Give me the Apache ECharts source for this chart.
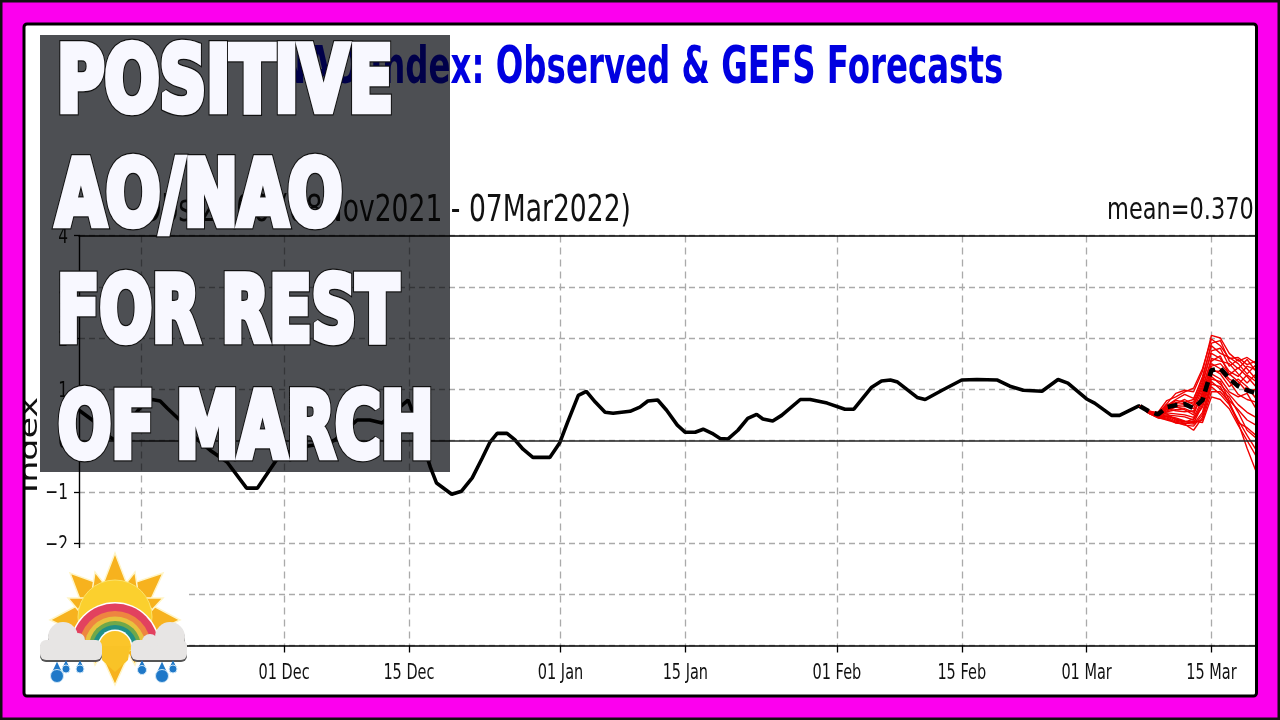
<!DOCTYPE html>
<html><head><meta charset="utf-8">
<style>html,body{margin:0;padding:0;background:#fff}#c{width:1280px;height:720px}</style>
<script src="https://cdn.jsdelivr.net/npm/echarts@6/dist/echarts.min.js"></script>
</head><body><div id="c"></div>
<script>
// Days counted from 08 Nov 2021
const tickDays = [7,23,37,54,68,85,99,113,127];
const tickLabels = ['15 Nov','01 Dec','15 Dec','01 Jan','15 Jan','01 Feb','15 Feb','01 Mar','15 Mar'];
const yTicks = [4,3,2,1,0,-1,-2,-3,-4];
const obsDays = [0,2.6,3.5,4.4,6,7.2,8.2,9.1,9.9,11.3,13,14.7,16.6,18.8,20,22.5,24.8,27.9,28.7,31.2,32.6,34,34.9,36.9,37.5,39.4,40.1,41.8,42.9,44.1,45.2,46.1,46.9,48,48.9,49.8,50.9,52.8,53.9,54.8,56,56.9,57.9,59,59.9,61.8,62.9,63.8,64.9,65.9,67.1,68,69.1,70,71,71.9,72.8,73.9,75,76,76.7,77.8,78.8,80.9,82,83.9,85.9,86.9,88.9,90,91,91.8,94,94.9,96.8,99,100.7,103,104.4,105.9,108,109.8,110.9,113,113.9,115.8,116.7,118.8,119];
const obsValues = [.59,.26,.06,-.03,.45,.71,.8,.77,.63,.4,.06,-.19,-.42,-.93,-.93,-.29,-.13,-.05,.01,.4,.4,.34,.49,.79,.53,-.52,-.83,-1.05,-.99,-.73,-.35,-.03,.14,.14,.01,-.17,-.33,-.33,-.05,.36,.88,.96,.75,.55,.53,.57,.65,.77,.79,.59,.3,.16,.16,.22,.14,.04,.03,.2,.43,.51,.42,.38,.49,.8,.8,.73,.61,.61,1.04,1.16,1.18,1.14,.84,.8,.98,1.18,1.19,1.18,1.06,.98,.96,1.19,1.12,.81,.73,.49,.49,.67,.67];
const fcstDays = [119,120,121,122,123,124,125,126,127,128,129,130,131,132];
const fcstMean = [.67,.57,.51,.65,.69,.71,.63,.79,1.37,1.41,1.21,1.06,.98,.92];
const m01 = [.67,.58,.52,.72,.92,.98,.95,1.35,2.05,2.0,1.7,1.55,1.62,1.5];
const m02 = [.67,.56,.55,.78,.85,.95,1.02,1.4,1.98,1.85,1.6,1.62,1.48,1.55];
const m03 = [.67,.55,.5,.68,.8,.9,.82,1.2,1.9,1.95,1.55,1.4,1.58,1.35];
const m04 = [.67,.57,.48,.66,.78,.75,.8,1.25,1.85,1.7,1.62,1.5,1.3,1.48];
const m05 = [.67,.54,.46,.62,.72,.8,.7,1.1,1.75,1.8,1.45,1.58,1.4,1.2];
const m06 = [.67,.56,.53,.7,.74,.72,.75,1.15,1.7,1.6,1.35,1.25,1.45,1.38];
const m07 = [.67,.55,.5,.6,.68,.7,.62,1.0,1.6,1.55,1.5,1.3,1.12,1.3];
const m08 = [.67,.53,.49,.58,.65,.66,.68,1.05,1.55,1.65,1.28,1.42,1.25,1.05];
const m09 = [.67,.55,.47,.56,.6,.62,.55,.9,1.5,1.4,1.2,1.1,1.28,1.15];
const m10 = [.67,.54,.51,.64,.66,.6,.5,.95,1.45,1.5,1.3,1.15,.95,1.0];
const m11 = [.67,.56,.52,.62,.58,.56,.58,.85,1.4,1.3,1.05,1.2,1.05,.82];
const m12 = [.67,.55,.48,.54,.52,.5,.45,.8,1.35,1.35,1.15,.9,.8,.75];
const m13 = [.67,.54,.46,.5,.48,.46,.4,.75,1.3,1.2,.95,.85,.92,.62];
const m14 = [.67,.53,.45,.48,.44,.38,.34,.7,1.25,1.1,.9,.7,.55,.45];
const m15 = [.67,.55,.5,.52,.4,.36,.42,.65,1.2,1.15,.78,.6,.4,.3];
const m16 = [.67,.54,.47,.46,.38,.34,.32,.55,1.15,1.0,.85,.55,.2,.05];
const m17 = [.67,.53,.44,.42,.36,.3,.28,.5,1.1,1.05,.72,.4,.1,-.18];
const m18 = [.67,.55,.46,.44,.34,.32,.2,.45,1.05,.9,.7,.35,.25,.1];
const m19 = [.67,.54,.49,.47,.42,.37,.35,.4,.95,.95,.75,.35,-.15,-.6];
const m20 = [.67,.53,.45,.4,.35,.33,.38,.35,.85,.8,.62,.3,.0,-.3];
const members = [m01,m02,m03,m04,m05,m06,m07,m08,m09,m10,m11,m12,m13,m14,m15,m16,m17,m18,m19,m20];
const titleText = 'NAO Index: Observed & GEFS Forecasts';
const subText = 'Obs/Z500 (08Nov2021 - 07Mar2022)';
const meanText = 'mean=0.3707';
const overlayLines = ['POSITIVE','AO/NAO','FOR REST','OF MARCH'];

const zip = (xs, ys) => xs.map((x, i) => [x, ys[i]]);
const cond = '"DejaVu Sans Condensed","DejaVu Sans",sans-serif';
const dv = '"DejaVu Sans",sans-serif';
const MAG = '#fc00ee';

const series = members.map(m => ({
  type:'line', data: zip(fcstDays, m), showSymbol:false, silent:true, z:3,
  lineStyle:{color:'#f00000', width:1.4}
}));
series.unshift({
  type:'line', data: zip(obsDays, obsValues), showSymbol:false, silent:true, z:2,
  lineStyle:{color:'#000', width:3.6},
  markLine:{silent:true, symbol:'none', animation:false, label:{show:false},
    lineStyle:{color:'#222', type:'solid', width:1.6}, data:[{yAxis:0}]}
});
series.push({
  type:'line', data: zip(fcstDays, fcstMean), showSymbol:false, silent:true, z:4,
  lineStyle:{color:'#000', width:4.6, type:[10,6]}
});

const chart = echarts.init(document.getElementById('c'), null, {renderer:'canvas', width:1280, height:720});
chart.setOption({
  animation:false,
  backgroundColor:'#fff',
  grid:{left:79, right:24, top:235.5, bottom:74.5, containLabel:false},
  xAxis:[{
    type:'value', min:0, max:132, position:'bottom',
    axisLine:{onZero:false, lineStyle:{color:'#000', width:1.6}},
    axisTick:{customValues:tickDays, length:7, lineStyle:{color:'#000', width:1.3}},
    axisLabel:{show:false, customValues:tickDays},
    splitLine:{show:true, lineStyle:{color:'#aaa', type:[7,5], width:1.3}}
  },{
    type:'value', min:0, max:132, position:'top',
    axisLine:{onZero:false, lineStyle:{color:'#000', width:1.6}},
    axisTick:{show:false}, axisLabel:{show:false}, splitLine:{show:false}
  }],
  yAxis:{
    type:'value', min:-4, max:4, interval:1,
    axisLine:{show:true, onZero:false, lineStyle:{color:'#000', width:1.4}},
    axisTick:{show:true, length:5, lineStyle:{color:'#000', width:1.3}},
    axisLabel:{show:false},
    splitLine:{show:true, lineStyle:{color:'#aaa', type:[6,4], width:1.3}}
  },
  series
});

// --- texts and decorative graphics ---
const g = [];
const Z = 100;
const txt = (text, x, y, font, fill, extra, style) => g.push(Object.assign({type:'text', z:1, x, y,
  style:Object.assign({text, font, fill, align:'left', verticalAlign:'middle'}, style||{})}, extra||{}));

txt(titleText, 279, 69, 'bold 52px '+dv, '#0000e0', {scaleX:.624});
txt(subText, 631, 211, '38px '+dv, '#111', {scaleX:.7}, {align:'right'});
txt(meanText, 1107, 211, '31px '+dv, '#111', {scaleX:.725});
txt('Index', 43, 445, '35px '+dv, '#111', {rotation:Math.PI/2, scaleY:.72}, {align:'center', verticalAlign:'bottom'});

tickDays.forEach((d,i) => {
  const px = chart.convertToPixel({xAxisIndex:0}, d);
  txt(tickLabels[i], px, 674, '21px '+dv, '#111', {scaleX:.69}, {align:'center'});
});
yTicks.forEach(v => {
  const py = chart.convertToPixel({yAxisIndex:0}, v);
  txt(String(v).replace('-', '\u2212'), 68, py+2, '22px '+dv, '#111', {scaleX:.7}, {align:'right'});
});

// translucent panel (multiply keeps chart faintly visible)
g.push({type:'rect', z:Z, shape:{x:40,y:35,width:410,height:437}, style:{fill:'#4d4f53', blend:'multiply'}});
const lineY = [87.5,202,318,434], lineX = [57,56,57,58], sx = [.80,.795,.766,.774];
overlayLines.forEach((t,i) => {
  [['#111',9],['#f8f8ff',6.5]].forEach(([s,w],k) => g.push({type:'text', z:Z+1+k, x:lineX[i], y:lineY[i], scaleX:sx[i],
    style:{text:t, fill:'#f8f8ff', stroke:s, lineWidth:w, font:'bold 90px '+cond, align:'left', verticalAlign:'middle'}}));
});

// weather icon
const IZ = Z+5;
g.push({type:'rect', z:IZ, shape:{x:40,y:548,width:147,height:148}, style:{fill:'#fff'}});
const cx = 115, cy = 617;
const rays = [[[115,553],[100,592],[130,592]],[[70,573],[84,610],[106,586]],[[163,573],[124,586],[146,610]],
  [[50,620],[84,602],[84,636]],[[180,620],[146,602],[146,636]],[[115,685],[100,652],[130,652]],
  [[95,572],[92,592],[106,586]],[[135,572],[124,586],[138,592]],[[68,598],[78,610],[86,598]],[[163,598],[144,598],[152,610]],
  [[95,665],[104,650],[90,650]],[[135,665],[126,650],[140,650]]];
rays.forEach(r => g.push({type:'polygon', z:IZ+1, shape:{points:r}, style:{fill:'#f7b21e', stroke:'#fff5c8', lineWidth:1.5}}));
g.push({type:'circle', z:IZ+2, shape:{cx:cx,cy:cy,r:37}, style:{fill:'#fbd02e', stroke:'#fbe36a', lineWidth:1}});
[[45,'#fff'],[43.5,'#e2415f'],[36,'#ee8540'],[30.5,'#e8c23e'],[26,'#6fa84a'],[22,'#1f8f86'],[17.5,'#fff'],[16,'#fbc52a']].forEach(([r,c],i) =>
  g.push({type:'sector', z:IZ+3+i*0.01, shape:{cx:115,cy:647,r:r,r0:0,startAngle:Math.PI,endAngle:2*Math.PI}, style:{fill:c}}));
g.push({type:'polygon', z:IZ+3.2, shape:{points:[[100,646],[130,646],[128,660],[115,672],[102,660]]}, style:{fill:'#f9c327'}});
const cloud = (parts, fill, dy) => parts.forEach(p => {
  if (p.length === 3) g.push({type:'circle', z:IZ+4+(dy?0:1), shape:{cx:p[0],cy:p[1]+dy,r:p[2]}, style:{fill}});
  else g.push({type:'rect', z:IZ+4+(dy?0:1), shape:{x:p[0],y:p[1]+dy,width:p[2],height:p[3],r:6}, style:{fill}});
});
const cl = [[40,640,62,20],[63,637,15],[78,640,7],[91,650,10]];
const cr = [[131,640,56,20],[170,637,15],[150,642,8],[141,650,10]];
cloud(cl,'#555',2); cloud(cr,'#555',2);
cloud(cl,'#e7e5e4',0); cloud(cr,'#e7e5e4',0);
[[57,676,6.5],[66,669,4],[80,669,4],[142,670,4.5],[162,676,6.5],[173,669,4]].forEach(([x,y,r]) => {
  g.push({type:'polygon', z:IZ+6, shape:{points:[[x,y-r*2.2],[x-r*.9,y-r*.3],[x+r*.9,y-r*.3]]}, style:{fill:'#1f78c8'}});
  g.push({type:'circle', z:IZ+6, shape:{cx:x,cy:y,r:r}, style:{fill:'#1f78c8', stroke:'#cfe6f7', lineWidth:1}});
});

// magenta frame
const FZ = Z+20;
[[0,0,1280,24],[0,696,1280,24],[0,0,24,720],[1256,0,24,720]].forEach(([x,y,w,h]) =>
  g.push({type:'rect', z:FZ, shape:{x,y,width:w,height:h}, style:{fill:MAG}}));
g.push({type:'rect', z:FZ+1, shape:{x:24,y:24,width:1232.5,height:672,r:3}, style:{fill:'none', stroke:'#000', lineWidth:3}});
g.push({type:'rect', z:FZ+1, shape:{x:1,y:1,width:1278,height:718}, style:{fill:'none', stroke:'#111', lineWidth:3}});

chart.setOption({graphic:{elements:g}});
</script></body></html>
